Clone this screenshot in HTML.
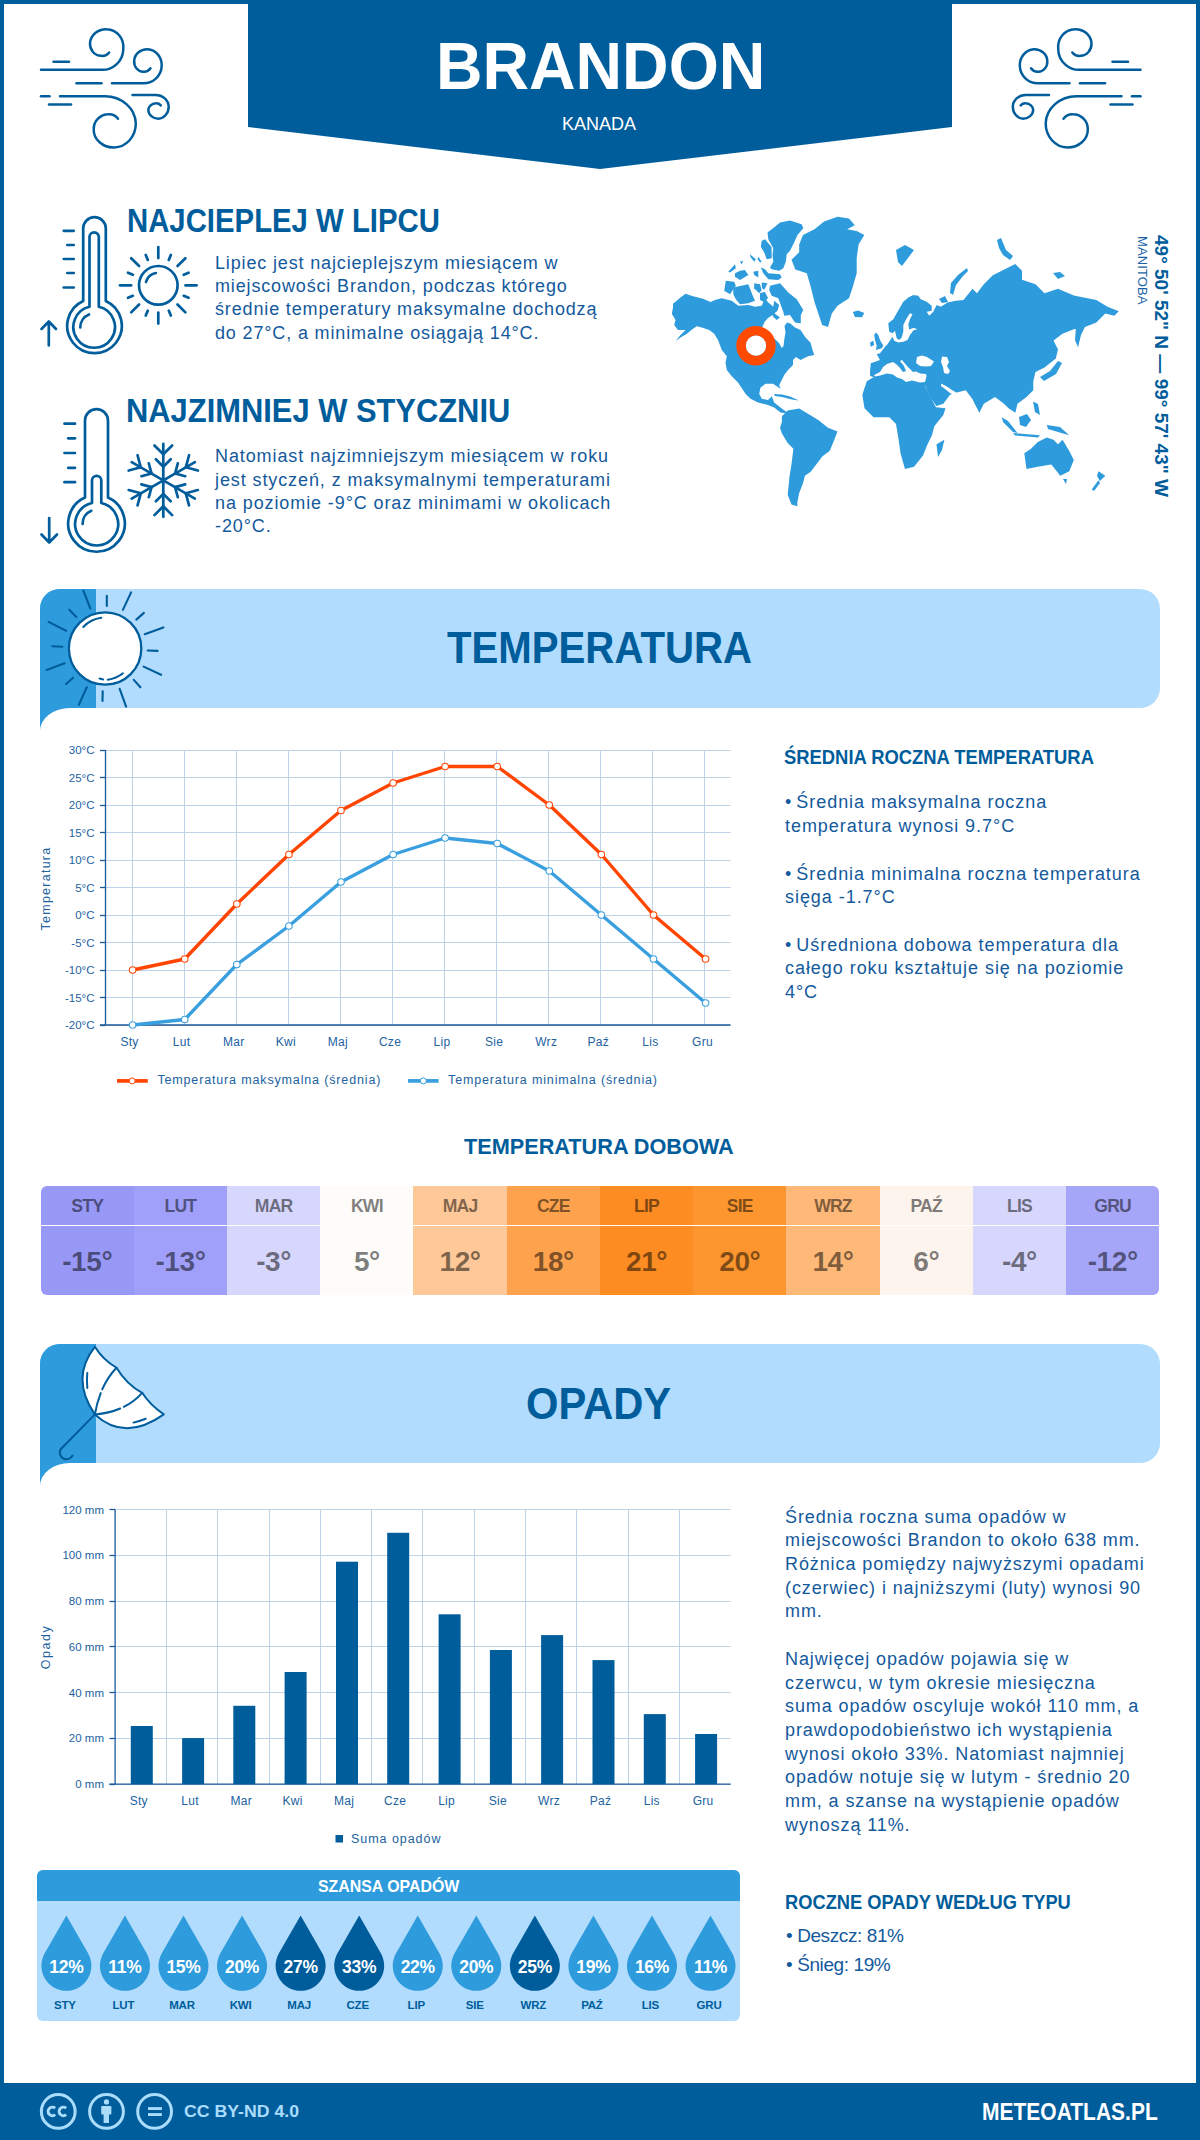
<!DOCTYPE html>
<html lang="pl"><head><meta charset="utf-8"><title>Brandon - klimat</title>
<style>
*{margin:0;padding:0;box-sizing:border-box}
html,body{width:1200px;height:2140px;overflow:hidden;background:#fff}
body{position:relative;font-family:"Liberation Sans",sans-serif;color:#0f5c9e}
.a{position:absolute;white-space:nowrap}
</style></head><body>
<div class="a" style="left:0;top:0;width:1200px;height:2140px;border:4px solid #005d9c"></div>
<svg class="a" style="left:0;top:0" width="1200" height="180" viewBox="0 0 1200 180"><polygon points="248,0 952,0 952,127 600,169 248,127" fill="#005d9c"/></svg>
<div class="a" style="left:435.94px;top:32.62px;font-size:66.8px;line-height:67px;font-weight:700;color:#fff;letter-spacing:0px;transform:scaleX(0.9646);transform-origin:0 0;">BRANDON</div>
<div class="a" style="left:561.55px;top:114.29px;font-size:19px;line-height:20px;font-weight:400;color:#fff;letter-spacing:0px;transform:scaleX(0.9481);transform-origin:0 0;">KANADA</div>
<svg class="a" style="left:0;top:0" width="200" height="160" viewBox="0 0 200 160" fill="none" stroke="#005d9c" stroke-width="2.5" stroke-linecap="round"><path d="M53.5,61.7H69"/>
<path d="M41,69.7H100A21,21 0 0 0 123.3,49.2A17,18 0 0 0 106.7,29.2A16,15 0 0 0 90,43.3A11,12 0 0 0 100.8,55.8A9,9 0 0 0 109.2,52.5"/>
<path d="M76.5,83.3H101.5"/>
<path d="M112,83.3H142.5A18,18 0 0 0 161.7,65.8A15,16 0 0 0 147.5,49.2A13,12 0 0 0 134.2,60.8A9,10 0 0 0 143.3,71.7A8,8 0 0 0 150.5,68.3"/>
<path d="M41,96.2H49.5"/>
<path d="M60,96.2H105A31,28 0 0 1 135.8,123.3A22,24 0 0 1 114.2,147.5A20,18 0 0 1 93.7,129.2A15,15 0 0 1 108.3,114.2A11,11 0 0 1 118,118.7"/>
<path d="M49,104.5H71"/>
<path d="M132.5,95H155A13,12 0 0 1 168.7,106.7A11,12 0 0 1 158.3,118.7A10,9 0 0 1 148.3,110A8,7 0 0 1 155.8,103.3A6,6 0 0 1 160.8,105.3"/></svg>
<svg class="a" style="left:999.5px;top:0" width="200" height="160" viewBox="0 0 200 160" fill="none" stroke="#005d9c" stroke-width="2.5" stroke-linecap="round"><g transform="translate(181.5,0) scale(-1,1)"><path d="M53.5,61.7H69"/>
<path d="M41,69.7H100A21,21 0 0 0 123.3,49.2A17,18 0 0 0 106.7,29.2A16,15 0 0 0 90,43.3A11,12 0 0 0 100.8,55.8A9,9 0 0 0 109.2,52.5"/>
<path d="M76.5,83.3H101.5"/>
<path d="M112,83.3H142.5A18,18 0 0 0 161.7,65.8A15,16 0 0 0 147.5,49.2A13,12 0 0 0 134.2,60.8A9,10 0 0 0 143.3,71.7A8,8 0 0 0 150.5,68.3"/>
<path d="M41,96.2H49.5"/>
<path d="M60,96.2H105A31,28 0 0 1 135.8,123.3A22,24 0 0 1 114.2,147.5A20,18 0 0 1 93.7,129.2A15,15 0 0 1 108.3,114.2A11,11 0 0 1 118,118.7"/>
<path d="M49,104.5H71"/>
<path d="M132.5,95H155A13,12 0 0 1 168.7,106.7A11,12 0 0 1 158.3,118.7A10,9 0 0 1 148.3,110A8,7 0 0 1 155.8,103.3A6,6 0 0 1 160.8,105.3"/></g></svg>
<svg class="a" style="left:0;top:190px" width="220" height="380" viewBox="0 190 220 380" fill="none" stroke="#005d9c" stroke-width="2.7" stroke-linecap="round" stroke-linejoin="round">
<path d="M83.2,301V228.5A11.3,11.3 0 0 1 105.8,228.5V301A27.3,27.3 0 1 1 83.2,301Z"/>
<path d="M89.5,306.7V237A4.65,4.65 0 0 1 98.8,237V306.7A20.8,20.8 0 1 1 89.5,306.7Z"/>
<path d="M80.3,327.5A13.7,13.7 0 0 1 89,314.5"/>
<path d="M63.75,230.8H73.75"/>
<path d="M67.3,245H73.75"/>
<path d="M63.75,259H73.75"/>
<path d="M67.3,273H73.75"/>
<path d="M63.75,287.5H73.75"/>
<path d="M48.8,345.5V321.5M41.5,329L48.8,321.5L56,329"/>
<circle cx="158.3" cy="285.3" r="19.3"/>
<path d="M185.50,285.30L196.60,285.30"/>
<path d="M183.71,295.82L188.60,297.85"/>
<path d="M177.53,304.53L185.38,312.38"/>
<path d="M168.82,310.71L170.85,315.60"/>
<path d="M158.30,312.50L158.30,323.60"/>
<path d="M147.78,310.71L145.75,315.60"/>
<path d="M139.07,304.53L131.22,312.38"/>
<path d="M132.89,295.82L128.00,297.85"/>
<path d="M131.10,285.30L120.00,285.30"/>
<path d="M132.89,274.78L128.00,272.75"/>
<path d="M139.07,266.07L131.22,258.22"/>
<path d="M147.78,259.89L145.75,255.00"/>
<path d="M158.30,258.10L158.30,247.00"/>
<path d="M168.82,259.89L170.85,255.00"/>
<path d="M177.53,266.07L185.38,258.22"/>
<path d="M183.71,274.78L188.60,272.75"/>
<path d="M146,282A12.6,12.6 0 0 1 155.8,273"/>
<path d="M85,497.6V420.7A11.5,11.5 0 0 1 108,420.7V497.6A28.3,28.3 0 1 1 85,497.6Z"/>
<path d="M92,503V480.6A4.65,4.65 0 0 1 101.3,480.6V503A21.5,21.5 0 1 1 92,503Z"/>
<path d="M82.6,524A14,14 0 0 1 91.3,510.8"/>
<path d="M64.5,423.7H75"/>
<path d="M68.2,438.3H75"/>
<path d="M64.5,453H75"/>
<path d="M68.2,467.8H75"/>
<path d="M64.5,482.2H75"/>
<path d="M49.2,518V542.5M41.5,534.5L49.2,542.5L57,534.5"/>
<path d="M163.30,480.30L163.30,443.80"/>
<path d="M163.30,454.30L154.46,445.46"/>
<path d="M163.30,454.30L172.14,445.46"/>
<path d="M163.30,466.70L155.88,459.28"/>
<path d="M163.30,466.70L170.72,459.28"/>
<path d="M163.30,480.30L131.69,462.05"/>
<path d="M140.78,467.30L128.71,470.54"/>
<path d="M140.78,467.30L137.55,455.23"/>
<path d="M151.52,473.50L141.38,476.22"/>
<path d="M151.52,473.50L148.80,463.36"/>
<path d="M163.30,480.30L131.69,498.55"/>
<path d="M140.78,493.30L137.55,505.37"/>
<path d="M140.78,493.30L128.71,490.06"/>
<path d="M151.52,487.10L148.80,497.24"/>
<path d="M151.52,487.10L141.38,484.38"/>
<path d="M163.30,480.30L163.30,516.80"/>
<path d="M163.30,506.30L172.14,515.14"/>
<path d="M163.30,506.30L154.46,515.14"/>
<path d="M163.30,493.90L170.72,501.32"/>
<path d="M163.30,493.90L155.88,501.32"/>
<path d="M163.30,480.30L194.91,498.55"/>
<path d="M185.82,493.30L197.89,490.06"/>
<path d="M185.82,493.30L189.05,505.37"/>
<path d="M175.08,487.10L185.22,484.38"/>
<path d="M175.08,487.10L177.80,497.24"/>
<path d="M163.30,480.30L194.91,462.05"/>
<path d="M185.82,467.30L189.05,455.23"/>
<path d="M185.82,467.30L197.89,470.54"/>
<path d="M175.08,473.50L177.80,463.36"/>
<path d="M175.08,473.50L185.22,476.22"/>
</svg>
<div class="a" style="left:126.52px;top:202.70px;font-size:33px;line-height:36px;font-weight:700;color:#005d9c;letter-spacing:0px;transform:scaleX(0.8888);transform-origin:0 0;">NAJCIEPLEJ W LIPCU</div>
<div class="a" style="left:215.00px;top:251.57px;font-size:18px;line-height:23.33px;font-weight:400;color:#13599c;letter-spacing:0.85px;">Lipiec jest najcieplejszym miesiącem w<br>miejscowości Brandon, podczas którego<br>średnie temperatury maksymalne dochodzą<br>do 27°C, a minimalne osiągają 14°C.</div>
<div class="a" style="left:125.60px;top:392.53px;font-size:32.6px;line-height:36px;font-weight:700;color:#005d9c;letter-spacing:0px;transform:scaleX(0.9478);transform-origin:0 0;">NAJZIMNIEJ W STYCZNIU</div>
<div class="a" style="left:215.00px;top:445.37px;font-size:18px;line-height:23.33px;font-weight:400;color:#13599c;letter-spacing:0.9px;">Natomiast najzimniejszym miesiącem w roku<br>jest styczeń, z maksymalnymi temperaturami<br>na poziomie -9°C oraz minimami w okolicach<br>-20°C.</div>
<div class="a" style="left:784.09px;top:745.05px;font-size:20.3px;line-height:24px;font-weight:700;color:#005d9c;letter-spacing:0px;transform:scaleX(0.9068);transform-origin:0 0;">ŚREDNIA ROCZNA TEMPERATURA</div>
<div class="a" style="left:785.00px;top:791.49px;font-size:18px;line-height:23.7px;font-weight:400;color:#13599c;letter-spacing:0.95px;"><span style="letter-spacing:0">• </span>Średnia maksymalna roczna<br>temperatura wynosi 9.7°C<br><br><span style="letter-spacing:0">• </span>Średnia minimalna roczna temperatura<br>sięga -1.7°C<br><br><span style="letter-spacing:0">• </span>Uśredniona dobowa temperatura dla<br>całego roku kształtuje się na poziomie<br>4°C</div>
<div class="a" style="left:785.00px;top:1505.58px;font-size:18px;line-height:23.7px;font-weight:400;color:#13599c;letter-spacing:0.9px;">Średnia roczna suma opadów w<br>miejscowości Brandon to około 638 mm.<br>Różnica pomiędzy najwyższymi opadami<br>(czerwiec) i najniższymi (luty) wynosi 90<br>mm.<br><br>Najwięcej opadów pojawia się w<br>czerwcu, w tym okresie miesięczna<br>suma opadów oscyluje wokół 110 mm, a<br>prawdopodobieństwo ich wystąpienia<br>wynosi około 33%. Natomiast najmniej<br>opadów notuje się w lutym - średnio 20<br>mm, a szanse na wystąpienie opadów<br>wynoszą 11%.</div>
<div class="a" style="left:785.10px;top:1890.05px;font-size:20.3px;line-height:24px;font-weight:700;color:#005d9c;letter-spacing:0px;transform:scaleX(0.9016);transform-origin:0 0;">ROCZNE OPADY WEDŁUG TYPU</div>
<div class="a" style="left:786.00px;top:1921.09px;font-size:19px;line-height:29.2px;font-weight:400;color:#13599c;letter-spacing:-0.4px;">• Deszcz: 81%<br>• Śnieg: 19%</div>
<svg class="a" style="left:660px;top:205px" width="470" height="310" viewBox="660 205 470 310">
<g fill="#2e9bdc">
<polygon points="673.0,303.8 680.5,297.5 685.5,293.8 693.0,296.2 703.0,298.8 710.5,301.9 715.0,300.0 721.7,298.3 731.7,300.8 738.3,305.8 748.3,305.0 755.0,306.7 761.7,305.8 765.0,298.3 768.3,302.5 773.3,306.7 774.2,300.8 779.2,305.0 777.5,310.8 772.5,315.0 768.0,318.0 764.5,322.0 762.0,328.0 770.0,336.0 776.0,340.0 779.0,343.0 781.8,348.0 783.5,346.0 784.2,340.0 785.5,332.5 784.5,326.0 787.0,322.5 790.0,323.3 795.0,327.5 800.5,330.0 805.5,337.5 810.5,342.5 811.8,347.5 814.2,355.0 808.0,356.2 800.5,360.0 796.0,357.0 793.0,360.0 793.0,365.0 788.0,370.0 784.2,375.0 781.8,380.0 779.2,385.0 780.5,388.8 776.8,386.2 773.0,383.8 765.5,383.8 760.5,387.5 759.2,393.8 761.8,398.8 768.0,400.0 771.8,396.2 774.2,402.5 780.5,407.5 785.5,411.2 789.2,413.8 780.5,412.5 774.2,407.5 768.0,405.0 758.0,402.5 750.5,398.8 745.5,393.8 738.0,382.5 731.8,376.2 726.8,370.0 725.5,362.5 726.8,356.2 721.8,350.0 718.0,340.0 714.2,333.8 709.2,330.0 701.8,327.5 696.8,326.2 693.0,328.8 686.8,333.8 680.5,337.5 675.5,341.2 680.5,335.0 685.5,330.0 678.0,330.0 674.2,325.0 675.5,320.0 671.8,313.8 673.0,307.5"/>
<polygon points="824.1,221.5 837.5,216.7 849.0,218.6 854.8,225.3 847.1,229.2 856.7,231.1 864.3,235.0 858.6,244.5 856.7,258.0 856.7,273.3 852.8,286.7 849.0,298.2 837.5,305.8 831.8,313.5 828.0,327.0 822.2,325.0 818.3,313.5 814.5,302.0 810.7,286.7 806.8,273.3 795.3,269.4 791.5,259.8 799.2,252.2 799.2,244.5 803.0,235.0 814.5,229.2"/>
<polygon points="781.9,416.3 787.7,410.5 799.2,408.6 808.8,414.3 818.3,420.1 828.0,427.8 837.5,431.6 833.7,441.2 829.8,450.8 822.2,456.5 816.4,464.2 810.7,471.8 804.9,475.7 803.0,483.3 799.2,493.0 797.3,502.5 797.3,506.3 791.5,504.4 787.7,494.8 789.6,475.7 791.5,464.2 793.4,448.8 787.7,443.1 781.9,433.5 780.0,427.8 781.9,422.0"/>
<polygon points="870.0,371.7 870.8,363.3 880.0,360.0 876.7,354.2 880.0,353.3 885.0,346.7 887.5,344.2 892.5,336.7 894.2,340.8 898.3,342.5 903.3,341.7 907.5,340.0 910.0,335.0 913.3,330.5 917.5,329.0 913.3,328.0 909.2,329.5 908.3,324.2 910.0,319.2 912.5,314.2 910.0,313.3 906.7,318.3 903.3,325.0 903.3,331.7 901.7,337.5 899.2,340.0 896.7,338.3 895.0,330.8 892.5,333.3 889.2,331.7 888.3,323.3 893.3,319.2 897.5,311.7 903.3,301.7 908.3,297.5 913.3,295.0 918.3,295.8 920.8,299.2 926.7,301.7 931.7,305.8 931.7,310.8 926.7,311.7 929.2,315.8 933.3,311.7 936.7,305.0 940.8,306.7 947.5,302.5 955.8,300.8 963.5,300.0 972.5,288.8 977.0,293.3 983.8,284.3 992.8,275.3 1006.3,268.5 1015.3,264.0 1022.0,270.8 1022.0,279.8 1035.5,284.3 1044.5,293.3 1058.0,288.8 1073.8,295.5 1085.0,297.8 1096.3,300.0 1107.5,306.8 1118.8,311.3 1114.3,315.8 1105.3,313.5 1096.3,322.5 1085.0,327.0 1073.8,329.3 1062.5,333.8 1053.5,340.5 1058.0,349.5 1055.8,358.5 1044.5,367.5 1035.5,372.0 1033.3,381.0 1033.3,390.3 1026.5,397.0 1017.5,403.8 1015.3,412.8 1008.5,408.3 1004.0,403.8 995.0,397.0 983.8,403.8 979.3,412.8 972.5,399.3 965.8,390.3 956.8,392.5 950.0,394.8 943.3,403.8 936.5,406.0 929.8,397.0 925.3,385.8 918.0,381.0 900.0,380.0 880.0,379.0 870.1,376.0"/>
<polygon points="866.8,381.3 878.0,374.5 893.8,374.5 905.0,379.0 918.5,379.0 924.5,384.5 931.0,398.3 936.0,407.3 945.5,408.3 943.3,415.0 934.3,426.3 932.0,435.3 927.5,444.3 923.0,455.5 914.0,466.8 905.0,469.0 900.5,453.3 898.3,437.5 896.0,424.0 889.3,417.3 873.5,417.3 864.5,408.3 862.3,394.8"/>
<polygon points="1024.3,453.3 1026.5,469.0 1037.8,466.8 1051.3,464.5 1060.3,475.8 1069.3,471.3 1073.8,460.0 1069.3,451.0 1062.5,439.8 1058.0,444.3 1053.5,439.8 1046.8,437.5 1037.8,442.0 1031.0,448.8"/>
<polygon points="767.5,232.5 775.0,226.7 780.0,222.5 790.0,220.4 801.7,224.2 803.3,228.3 797.5,235.0 794.2,242.5 790.0,250.8 786.7,254.2 785.8,261.7 783.3,268.3 779.2,270.8 771.7,269.2 770.0,267.5 773.3,261.7 772.5,255.0 773.3,248.3 768.3,239.2"/>
<polygon points="761.7,240.8 765.0,239.2 771.5,247.0 771.7,258.3 766.7,259.2 764.2,252.5 760.8,246.7"/>
<polygon points="760.8,267.5 765.0,269.2 768.3,273.3 780.0,274.2 781.7,277.5 778.3,280.0 768.3,279.2 763.3,273.3"/>
<polygon points="770.0,285.8 780.0,283.3 788.3,292.5 796.7,299.2 803.3,310.0 800.8,315.0 800.8,323.3 795.0,322.5 790.0,315.0 784.2,315.8 783.3,311.7 778.3,298.3 771.7,295.8 769.2,290.0"/>
<polygon points="733.3,287.5 748.3,284.2 752.5,295.0 755.0,300.8 748.3,303.3 740.0,304.2 735.8,299.2 733.3,294.2"/>
<polygon points="725.8,280.8 734.2,281.7 735.8,285.8 730.0,294.2 724.2,290.8"/>
<polygon points="754.2,283.3 760.0,284.2 761.7,290.0 759.2,293.3 754.2,288.3"/>
<polygon points="761.7,282.5 767.5,283.3 764.2,290.0 762.0,288.0"/>
<polygon points="760.0,293.0 765.0,292.0 768.0,298.0 764.0,302.0 760.0,300.0"/>
<polygon points="728.3,271.7 735.0,264.2 735.8,268.3 730.0,272.5"/>
<polygon points="735.0,273.3 740.0,270.8 745.0,270.0 748.3,275.0 740.0,280.0 735.0,276.7"/>
<polygon points="753.3,271.7 758.3,270.8 758.3,277.5 754.2,275.0"/>
<polygon points="750.0,254.2 755.8,259.2 754.2,261.7 750.5,257.0"/>
<polygon points="758.3,256.7 761.7,261.7 760.0,262.5 757.5,259.0"/>
<polygon points="740.0,261.7 743.3,260.8 741.7,264.2"/>
<polygon points="773.3,312.5 780.0,317.5 776.7,320.0 772.5,316.0"/>
<polygon points="774.0,394.0 782.0,394.5 790.0,396.5 799.0,400.6 792.0,399.5 782.0,397.0 775.0,396.0"/>
<polygon points="852.8,312.0 858.0,310.5 864.3,313.0 862.0,317.3 855.0,317.0"/>
<polygon points="896.0,250.0 905.0,245.0 914.0,250.0 908.0,258.0 902.0,266.0 898.0,262.0"/>
<polygon points="967.0,268.0 958.0,275.0 951.0,283.0 950.0,293.0 953.0,295.0 956.0,285.0 963.0,276.0 968.0,271.0"/>
<polygon points="997.0,240.0 1001.0,238.0 1006.0,250.0 1013.0,256.0 1010.0,260.0 1003.0,255.0 999.0,248.0"/>
<polygon points="1053.0,273.0 1060.0,272.0 1065.0,276.0 1058.0,279.0"/>
<polygon points="875.8,332.5 878.3,335.0 880.0,340.0 883.3,345.8 881.7,348.3 875.8,350.0 876.7,345.8 875.0,340.0 874.2,335.0"/>
<polygon points="870.0,342.5 873.3,340.8 874.2,345.0 870.8,346.7"/>
<polygon points="936.5,444.3 944.4,439.8 942.0,450.0 938.0,457.0"/>
<polygon points="1001.8,417.3 1008.0,421.0 1017.5,433.0 1013.0,432.0 1003.0,422.0"/>
<polygon points="1013.0,433.0 1040.0,435.3 1038.0,437.5 1015.0,435.5"/>
<polygon points="1019.0,417.0 1027.0,414.0 1031.0,420.0 1026.0,427.0 1020.0,425.0"/>
<polygon points="1033.0,401.5 1038.0,404.0 1040.0,415.0 1035.0,412.0"/>
<polygon points="1046.8,425.0 1060.0,427.0 1069.3,435.3 1058.0,432.0 1048.0,429.0"/>
<polygon points="1040.0,377.0 1050.0,371.0 1058.0,361.0 1062.0,363.0 1056.0,374.0 1044.0,381.0"/>
<polygon points="1076.0,326.0 1085.0,318.0 1087.3,322.0 1081.0,335.0 1078.0,347.3 1075.0,340.0"/>
<polygon points="1063.0,479.0 1067.0,479.0 1066.0,484.0"/>
<polygon points="1098.5,471.3 1105.3,475.8 1100.0,481.0 1097.0,476.0"/>
<polygon points="1091.8,489.3 1098.5,480.3 1100.0,483.0 1094.0,491.0"/>
<polygon points="939.0,299.0 945.0,296.0 948.0,302.0 942.0,303.0"/>
</g>
<g fill="#fff"><polygon points="874.0,375.0 880.0,372.0 883.0,367.0 887.0,364.0 893.0,362.0 896.0,364.0 900.0,368.0 903.0,372.0 906.0,371.0 904.0,366.0 900.0,361.0 902.0,360.0 907.0,366.0 910.0,369.0 913.0,372.0 916.0,371.5 920.0,373.5 926.0,374.0 926.5,376.0 925.0,382.0 920.0,382.5 912.0,380.5 906.0,382.0 902.0,379.0 897.0,377.5 893.0,374.5 887.0,373.5 880.0,375.5 875.0,376.5"/><polygon points="917.0,357.0 922.0,355.5 927.0,357.0 930.0,359.0 934.0,361.5 931.0,366.0 926.0,366.5 920.0,366.0 916.0,363.0"/><polygon points="942.0,356.5 947.0,357.0 949.0,362.0 947.0,366.0 950.0,371.0 948.0,374.0 944.0,373.0 943.0,367.0 941.0,362.0"/><polygon points="941.0,383.5 946.0,386.0 952.0,390.0 957.0,393.0 955.0,395.5 950.0,393.0 945.0,389.0 941.0,386.0"/></g>
<circle cx="756" cy="345.7" r="14.9" fill="none" stroke="#ff4a00" stroke-width="9.6"/><circle cx="756" cy="345.7" r="10.1" fill="#fff"/>
</svg>
<div class="a" style="left:1138.5px;top:236px;width:20px;height:80px"><div style="position:absolute;left:0;top:0;transform-origin:0 0;transform:translate(10px,0) rotate(90deg);font-size:13px;line-height:13px;color:#1a62a5;letter-spacing:0.1px">MANITOBA</div></div>
<div class="a" style="left:1152px;top:235px;width:20px;height:270px"><div style="position:absolute;left:0;top:0;transform-origin:0 0;transform:translate(19px,0) rotate(90deg);font-size:19px;line-height:19px;font-weight:700;color:#005d9c;white-space:nowrap">49° 50' 52" N — 99° 57' 43" W</div></div>
<div class="a" style="left:40px;top:589px;width:56px;height:141px;background:#2e9bdc;border-radius:20px 0 0 0"></div>
<div class="a" style="left:40px;top:589px;width:1120px;height:118.5px;background:#b1dcfd;border-radius:20px 20px 20px 0"></div>
<div class="a" style="left:40px;top:589px;width:56px;height:118.5px;background:#2e9bdc;border-radius:20px 0 0 0"></div>
<div class="a" style="left:40px;top:707.5px;width:120px;height:40px;background:#fff;border-radius:30px 0 0 0/23px 0 0 0"></div>
<div class="a" style="left:446.80px;top:623.10px;font-size:43.5px;line-height:50px;font-weight:700;color:#005d9c;letter-spacing:0px;transform:scaleX(0.9234);transform-origin:0 0;">TEMPERATURA</div>
<div class="a" style="left:40px;top:1344px;width:56px;height:141px;background:#2e9bdc;border-radius:20px 0 0 0"></div>
<div class="a" style="left:40px;top:1344px;width:1120px;height:118.5px;background:#b1dcfd;border-radius:20px 20px 20px 0"></div>
<div class="a" style="left:40px;top:1344px;width:56px;height:118.5px;background:#2e9bdc;border-radius:20px 0 0 0"></div>
<div class="a" style="left:40px;top:1462.5px;width:120px;height:40px;background:#fff;border-radius:30px 0 0 0/23px 0 0 0"></div>
<div class="a" style="left:526.08px;top:1378.60px;font-size:43.5px;line-height:50px;font-weight:700;color:#005d9c;letter-spacing:0px;transform:scaleX(0.9584);transform-origin:0 0;">OPADY</div>
<svg class="a" style="left:36px;top:584px" width="140" height="150" viewBox="36 584 140 150" fill="none" stroke="#005d9c" stroke-width="2.1" stroke-linecap="round">
<path d="M83.3,590.4L90.3,608.5"/>
<path d="M106.8,595.7L106.8,606"/>
<path d="M131.1,592.4L122.9,609.9"/>
<path d="M69.3,609.7L76.3,617"/>
<path d="M143.9,612.9L136.3,619.6"/>
<path d="M48.6,621.9L66.1,630.7"/>
<path d="M163.4,627.4L144.7,634.2"/>
<path d="M52.3,646.2L62.3,646.8"/>
<path d="M147.7,650.5L157.6,650.9"/>
<path d="M46.5,670L64.6,663.3"/>
<path d="M143.6,666.6L161.1,674.8"/>
<path d="M66.1,684.1L73.1,677.7"/>
<path d="M133.8,679.9L140.4,687.3"/>
<path d="M78.9,704.8L86.8,687.3"/>
<path d="M102.7,691.3L102.5,701"/>
<path d="M119.7,688.8L126.1,706.7"/>
<circle cx="105.1" cy="648.5" r="36.2" fill="#fff" stroke-width="2.3"/>
<path d="M83.3,627A30,30 0 0 1 101.3,617.8"/><path d="M99.6,678.5L103.1,679.4M107.8,679.7A30,30 0 0 0 122.9,673.3"/>
</svg>
<svg class="a" style="left:0;top:730px" width="780" height="380" viewBox="0 730 780 380" font-family="Liberation Sans, sans-serif">
<g stroke="#bcd3e8" stroke-width="1">
<path d="M100,750.5H730.5"/>
<path d="M100,777.5H730.5"/>
<path d="M100,805.5H730.5"/>
<path d="M100,832.5H730.5"/>
<path d="M100,860.5H730.5"/>
<path d="M100,887.5H730.5"/>
<path d="M100,915.5H730.5"/>
<path d="M100,942.5H730.5"/>
<path d="M100,970.5H730.5"/>
<path d="M100,997.5H730.5"/>
<path d="M100,1025.5H730.5"/>
<path d="M132.5,750V1025"/>
<path d="M184.5,750V1025"/>
<path d="M236.5,750V1025"/>
<path d="M288.5,750V1025"/>
<path d="M340.5,750V1025"/>
<path d="M392.5,750V1025"/>
<path d="M444.5,750V1025"/>
<path d="M496.5,750V1025"/>
<path d="M548.5,750V1025"/>
<path d="M600.5,750V1025"/>
<path d="M652.5,750V1025"/>
<path d="M704.5,750V1025"/>
</g>
<g stroke="#1d5a98" stroke-width="1.3">
<path d="M100,750.5H105.5"/>
<path d="M100,777.5H105.5"/>
<path d="M100,805.5H105.5"/>
<path d="M100,832.5H105.5"/>
<path d="M100,860.5H105.5"/>
<path d="M100,887.5H105.5"/>
<path d="M100,915.5H105.5"/>
<path d="M100,942.5H105.5"/>
<path d="M100,970.5H105.5"/>
<path d="M100,997.5H105.5"/>
<path d="M100,1025.5H105.5"/>
<path d="M105.5,750V1025"/><path d="M100,1025H730.5"/></g>
<g fill="#22629f" font-size="11.5" text-anchor="end">
<text x="94.5" y="754.0">30°C</text>
<text x="94.5" y="781.5">25°C</text>
<text x="94.5" y="809.0">20°C</text>
<text x="94.5" y="836.5">15°C</text>
<text x="94.5" y="864.0">10°C</text>
<text x="94.5" y="891.5">5°C</text>
<text x="94.5" y="919.0">0°C</text>
<text x="94.5" y="946.5">-5°C</text>
<text x="94.5" y="974.0">-10°C</text>
<text x="94.5" y="1001.5">-15°C</text>
<text x="94.5" y="1029.0">-20°C</text>
</g>
<g fill="#22629f" font-size="12" text-anchor="middle" letter-spacing="0.3">
<text x="129.5" y="1045.5">Sty</text>
<text x="181.6" y="1045.5">Lut</text>
<text x="233.7" y="1045.5">Mar</text>
<text x="285.8" y="1045.5">Kwi</text>
<text x="337.9" y="1045.5">Maj</text>
<text x="390.0" y="1045.5">Cze</text>
<text x="442.0" y="1045.5">Lip</text>
<text x="494.1" y="1045.5">Sie</text>
<text x="546.2" y="1045.5">Wrz</text>
<text x="598.3" y="1045.5">Paź</text>
<text x="650.4" y="1045.5">Lis</text>
<text x="702.5" y="1045.5">Gru</text>
</g>
<text transform="translate(50,888.5) rotate(-90)" text-anchor="middle" fill="#22629f" font-size="12.5" letter-spacing="1.25">Temperatura</text>
<polyline points="132.6,1025.0 184.7,1019.5 236.8,964.5 288.9,926.0 341.0,882.0 393.1,854.5 445.1,838.0 497.2,843.5 549.3,871.0 601.4,915.0 653.5,959.0 705.6,1003.0" fill="none" stroke="#3a9fdf" stroke-width="3.4" stroke-linejoin="round"/><circle cx="132.6" cy="1025.0" r="3.3" fill="#fff" stroke="#3a9fdf" stroke-width="1.05"/><circle cx="184.7" cy="1019.5" r="3.3" fill="#fff" stroke="#3a9fdf" stroke-width="1.05"/><circle cx="236.8" cy="964.5" r="3.3" fill="#fff" stroke="#3a9fdf" stroke-width="1.05"/><circle cx="288.9" cy="926.0" r="3.3" fill="#fff" stroke="#3a9fdf" stroke-width="1.05"/><circle cx="341.0" cy="882.0" r="3.3" fill="#fff" stroke="#3a9fdf" stroke-width="1.05"/><circle cx="393.1" cy="854.5" r="3.3" fill="#fff" stroke="#3a9fdf" stroke-width="1.05"/><circle cx="445.1" cy="838.0" r="3.3" fill="#fff" stroke="#3a9fdf" stroke-width="1.05"/><circle cx="497.2" cy="843.5" r="3.3" fill="#fff" stroke="#3a9fdf" stroke-width="1.05"/><circle cx="549.3" cy="871.0" r="3.3" fill="#fff" stroke="#3a9fdf" stroke-width="1.05"/><circle cx="601.4" cy="915.0" r="3.3" fill="#fff" stroke="#3a9fdf" stroke-width="1.05"/><circle cx="653.5" cy="959.0" r="3.3" fill="#fff" stroke="#3a9fdf" stroke-width="1.05"/><circle cx="705.6" cy="1003.0" r="3.3" fill="#fff" stroke="#3a9fdf" stroke-width="1.05"/>
<polyline points="132.6,970.0 184.7,959.0 236.8,904.0 288.9,854.5 341.0,810.5 393.1,783.0 445.1,766.5 497.2,766.5 549.3,805.0 601.4,854.5 653.5,915.0 705.6,959.0" fill="none" stroke="#ff4500" stroke-width="3.4" stroke-linejoin="round"/><circle cx="132.6" cy="970.0" r="3.3" fill="#fff" stroke="#ff4500" stroke-width="1.05"/><circle cx="184.7" cy="959.0" r="3.3" fill="#fff" stroke="#ff4500" stroke-width="1.05"/><circle cx="236.8" cy="904.0" r="3.3" fill="#fff" stroke="#ff4500" stroke-width="1.05"/><circle cx="288.9" cy="854.5" r="3.3" fill="#fff" stroke="#ff4500" stroke-width="1.05"/><circle cx="341.0" cy="810.5" r="3.3" fill="#fff" stroke="#ff4500" stroke-width="1.05"/><circle cx="393.1" cy="783.0" r="3.3" fill="#fff" stroke="#ff4500" stroke-width="1.05"/><circle cx="445.1" cy="766.5" r="3.3" fill="#fff" stroke="#ff4500" stroke-width="1.05"/><circle cx="497.2" cy="766.5" r="3.3" fill="#fff" stroke="#ff4500" stroke-width="1.05"/><circle cx="549.3" cy="805.0" r="3.3" fill="#fff" stroke="#ff4500" stroke-width="1.05"/><circle cx="601.4" cy="854.5" r="3.3" fill="#fff" stroke="#ff4500" stroke-width="1.05"/><circle cx="653.5" cy="915.0" r="3.3" fill="#fff" stroke="#ff4500" stroke-width="1.05"/><circle cx="705.6" cy="959.0" r="3.3" fill="#fff" stroke="#ff4500" stroke-width="1.05"/>
<path d="M117,1080.9H147.8" stroke="#ff4500" stroke-width="3.7"/><circle cx="132.2" cy="1080.9" r="3" fill="#fff" stroke="#ff4500" stroke-width="1"/>
<text x="157.4" y="1083.8" fill="#22629f" font-size="12.5" letter-spacing="0.85">Temperatura maksymalna (średnia)</text>
<path d="M408,1080.9H438.6" stroke="#3a9fdf" stroke-width="3.7"/><circle cx="423.3" cy="1080.9" r="3" fill="#fff" stroke="#3a9fdf" stroke-width="1"/>
<text x="448.1" y="1083.8" fill="#22629f" font-size="12.5" letter-spacing="0.85">Temperatura minimalna (średnia)</text>
</svg>
<div class="a" style="left:463.50px;top:1133.66px;font-size:22.3px;line-height:26px;font-weight:700;color:#005d9c;letter-spacing:0px;transform:scaleX(0.9722);transform-origin:0 0;">TEMPERATURA DOBOWA</div>
<div class="a" style="left:40.6px;top:1186.3px;width:1118.7px;height:109.2px;border-radius:6px;overflow:hidden">
<div class="a" style="left:0.00px;top:0;width:93.73px;height:109.2px;background:#9898f7"></div>
<div class="a" style="left:0.00px;top:0;width:93.23px;text-align:center;font-weight:700;font-size:17.6px;line-height:20px;padding-top:9.3px;letter-spacing:-0.8px;color:rgba(0,0,0,0.5)">STY</div>
<div class="a" style="left:0.00px;top:0;width:93.23px;text-align:center;font-weight:700;font-size:28px;line-height:30px;padding-top:61.2px;letter-spacing:-0.4px;color:rgba(0,0,0,0.5)">-15°</div>
<div class="a" style="left:93.23px;top:0;width:93.73px;height:109.2px;background:#a0a0fa"></div>
<div class="a" style="left:93.23px;top:0;width:93.23px;text-align:center;font-weight:700;font-size:17.6px;line-height:20px;padding-top:9.3px;letter-spacing:-0.8px;color:rgba(0,0,0,0.5)">LUT</div>
<div class="a" style="left:93.23px;top:0;width:93.23px;text-align:center;font-weight:700;font-size:28px;line-height:30px;padding-top:61.2px;letter-spacing:-0.4px;color:rgba(0,0,0,0.5)">-13°</div>
<div class="a" style="left:186.45px;top:0;width:93.73px;height:109.2px;background:#d7d7fd"></div>
<div class="a" style="left:186.45px;top:0;width:93.23px;text-align:center;font-weight:700;font-size:17.6px;line-height:20px;padding-top:9.3px;letter-spacing:-0.8px;color:rgba(0,0,0,0.5)">MAR</div>
<div class="a" style="left:186.45px;top:0;width:93.23px;text-align:center;font-weight:700;font-size:28px;line-height:30px;padding-top:61.2px;letter-spacing:-0.4px;color:rgba(0,0,0,0.5)">-3°</div>
<div class="a" style="left:279.68px;top:0;width:93.73px;height:109.2px;background:#fdfcfa"></div>
<div class="a" style="left:279.68px;top:0;width:93.23px;text-align:center;font-weight:700;font-size:17.6px;line-height:20px;padding-top:9.3px;letter-spacing:-0.8px;color:rgba(0,0,0,0.5)">KWI</div>
<div class="a" style="left:279.68px;top:0;width:93.23px;text-align:center;font-weight:700;font-size:28px;line-height:30px;padding-top:61.2px;letter-spacing:-0.4px;color:rgba(0,0,0,0.5)">5°</div>
<div class="a" style="left:372.90px;top:0;width:93.73px;height:109.2px;background:#fec898"></div>
<div class="a" style="left:372.90px;top:0;width:93.23px;text-align:center;font-weight:700;font-size:17.6px;line-height:20px;padding-top:9.3px;letter-spacing:-0.8px;color:rgba(0,0,0,0.5)">MAJ</div>
<div class="a" style="left:372.90px;top:0;width:93.23px;text-align:center;font-weight:700;font-size:28px;line-height:30px;padding-top:61.2px;letter-spacing:-0.4px;color:rgba(0,0,0,0.5)">12°</div>
<div class="a" style="left:466.13px;top:0;width:93.73px;height:109.2px;background:#fea24e"></div>
<div class="a" style="left:466.13px;top:0;width:93.23px;text-align:center;font-weight:700;font-size:17.6px;line-height:20px;padding-top:9.3px;letter-spacing:-0.8px;color:rgba(0,0,0,0.5)">CZE</div>
<div class="a" style="left:466.13px;top:0;width:93.23px;text-align:center;font-weight:700;font-size:28px;line-height:30px;padding-top:61.2px;letter-spacing:-0.4px;color:rgba(0,0,0,0.5)">18°</div>
<div class="a" style="left:559.35px;top:0;width:93.73px;height:109.2px;background:#fd8c22"></div>
<div class="a" style="left:559.35px;top:0;width:93.23px;text-align:center;font-weight:700;font-size:17.6px;line-height:20px;padding-top:9.3px;letter-spacing:-0.8px;color:rgba(0,0,0,0.5)">LIP</div>
<div class="a" style="left:559.35px;top:0;width:93.23px;text-align:center;font-weight:700;font-size:28px;line-height:30px;padding-top:61.2px;letter-spacing:-0.4px;color:rgba(0,0,0,0.5)">21°</div>
<div class="a" style="left:652.58px;top:0;width:93.73px;height:109.2px;background:#fe962f"></div>
<div class="a" style="left:652.58px;top:0;width:93.23px;text-align:center;font-weight:700;font-size:17.6px;line-height:20px;padding-top:9.3px;letter-spacing:-0.8px;color:rgba(0,0,0,0.5)">SIE</div>
<div class="a" style="left:652.58px;top:0;width:93.23px;text-align:center;font-weight:700;font-size:28px;line-height:30px;padding-top:61.2px;letter-spacing:-0.4px;color:rgba(0,0,0,0.5)">20°</div>
<div class="a" style="left:745.80px;top:0;width:93.73px;height:109.2px;background:#feb979"></div>
<div class="a" style="left:745.80px;top:0;width:93.23px;text-align:center;font-weight:700;font-size:17.6px;line-height:20px;padding-top:9.3px;letter-spacing:-0.8px;color:rgba(0,0,0,0.5)">WRZ</div>
<div class="a" style="left:745.80px;top:0;width:93.23px;text-align:center;font-weight:700;font-size:28px;line-height:30px;padding-top:61.2px;letter-spacing:-0.4px;color:rgba(0,0,0,0.5)">14°</div>
<div class="a" style="left:839.03px;top:0;width:93.73px;height:109.2px;background:#fef4ee"></div>
<div class="a" style="left:839.03px;top:0;width:93.23px;text-align:center;font-weight:700;font-size:17.6px;line-height:20px;padding-top:9.3px;letter-spacing:-0.8px;color:rgba(0,0,0,0.5)">PAŹ</div>
<div class="a" style="left:839.03px;top:0;width:93.23px;text-align:center;font-weight:700;font-size:28px;line-height:30px;padding-top:61.2px;letter-spacing:-0.4px;color:rgba(0,0,0,0.5)">6°</div>
<div class="a" style="left:932.25px;top:0;width:93.73px;height:109.2px;background:#d7d7fd"></div>
<div class="a" style="left:932.25px;top:0;width:93.23px;text-align:center;font-weight:700;font-size:17.6px;line-height:20px;padding-top:9.3px;letter-spacing:-0.8px;color:rgba(0,0,0,0.5)">LIS</div>
<div class="a" style="left:932.25px;top:0;width:93.23px;text-align:center;font-weight:700;font-size:28px;line-height:30px;padding-top:61.2px;letter-spacing:-0.4px;color:rgba(0,0,0,0.5)">-4°</div>
<div class="a" style="left:1025.48px;top:0;width:93.73px;height:109.2px;background:#a6a6f9"></div>
<div class="a" style="left:1025.48px;top:0;width:93.23px;text-align:center;font-weight:700;font-size:17.6px;line-height:20px;padding-top:9.3px;letter-spacing:-0.8px;color:rgba(0,0,0,0.5)">GRU</div>
<div class="a" style="left:1025.48px;top:0;width:93.23px;text-align:center;font-weight:700;font-size:28px;line-height:30px;padding-top:61.2px;letter-spacing:-0.4px;color:rgba(0,0,0,0.5)">-12°</div>
<div class="a" style="left:0;top:38.6px;width:100%;height:1.4px;background:#fff"></div>
</div>
<svg class="a" style="left:36px;top:1338px" width="140" height="150" viewBox="36 1338 140 150" fill="none" stroke="#005d9c" stroke-width="2" stroke-linecap="round" stroke-linejoin="round">
<path d="M94.9,1414.4L60.5,1449.5A5.5,5.5 0 0 0 72.5,1455.5"/>
<path d="M94.9,1346.8Q70,1378 94.9,1414.4Q125,1442 163.8,1414.4Q150,1405 142.2,1392.8Q127,1385 116.5,1367.75Q103,1360 94.9,1346.8Z" fill="#fff"/>
<path d="M94.9,1414.4Q100,1385 116.5,1367.75" stroke-dasharray="22 4 30"/><path d="M94.9,1414.4Q125,1412 142.2,1392.8" stroke-dasharray="26 4 30"/>
<path d="M87.3,1373Q86.5,1380 87.3,1388"/><path d="M133.4,1422.6Q140,1421 145.7,1418.7"/>
</svg>
<svg class="a" style="left:0;top:1490px" width="780" height="370" viewBox="0 1490 780 370" font-family="Liberation Sans, sans-serif">
<g stroke="#bcd3e8" stroke-width="1">
<path d="M110,1509.5H730.7"/>
<path d="M110,1555.5H730.7"/>
<path d="M110,1601.5H730.7"/>
<path d="M110,1646.5H730.7"/>
<path d="M110,1692.5H730.7"/>
<path d="M110,1738.5H730.7"/>
<path d="M110,1784.5H730.7"/>
<path d="M166.5,1509.5V1784.1"/>
<path d="M217.5,1509.5V1784.1"/>
<path d="M269.5,1509.5V1784.1"/>
<path d="M320.5,1509.5V1784.1"/>
<path d="M371.5,1509.5V1784.1"/>
<path d="M422.5,1509.5V1784.1"/>
<path d="M474.5,1509.5V1784.1"/>
<path d="M525.5,1509.5V1784.1"/>
<path d="M576.5,1509.5V1784.1"/>
<path d="M628.5,1509.5V1784.1"/>
<path d="M679.5,1509.5V1784.1"/>
</g>
<g stroke="#1d5a98" stroke-width="1.3">
<path d="M109.5,1509.5H115.1"/>
<path d="M109.5,1555.5H115.1"/>
<path d="M109.5,1601.5H115.1"/>
<path d="M109.5,1646.5H115.1"/>
<path d="M109.5,1692.5H115.1"/>
<path d="M109.5,1738.5H115.1"/>
<path d="M109.5,1784.5H115.1"/>
<path d="M115.1,1509.5V1784.1"/><path d="M109.5,1784.1H730.7"/></g>
<g fill="#005d9c">
<rect x="130.8" y="1726.0" width="22" height="58.1"/>
<rect x="182.1" y="1738.1" width="22" height="46.0"/>
<rect x="233.3" y="1705.8" width="22" height="78.3"/>
<rect x="284.6" y="1672.0" width="22" height="112.1"/>
<rect x="336.0" y="1561.7" width="22" height="222.4"/>
<rect x="387.2" y="1532.8" width="22" height="251.3"/>
<rect x="438.6" y="1614.3" width="22" height="169.8"/>
<rect x="489.9" y="1650.0" width="22" height="134.1"/>
<rect x="541.1" y="1635.1" width="22" height="149.0"/>
<rect x="592.5" y="1660.1" width="22" height="124.0"/>
<rect x="643.8" y="1714.1" width="22" height="70.0"/>
<rect x="695.1" y="1734.0" width="22" height="50.1"/>
</g>
<g fill="#22629f" font-size="11.5" text-anchor="end">
<text x="104" y="1513.5">120 mm</text>
<text x="104" y="1559.3">100 mm</text>
<text x="104" y="1605.0">80 mm</text>
<text x="104" y="1650.8">60 mm</text>
<text x="104" y="1696.6">40 mm</text>
<text x="104" y="1742.3">20 mm</text>
<text x="104" y="1788.1">0 mm</text>
</g>
<g fill="#22629f" font-size="12" text-anchor="middle" letter-spacing="0.3">
<text x="138.8" y="1804.5">Sty</text>
<text x="190.1" y="1804.5">Lut</text>
<text x="241.3" y="1804.5">Mar</text>
<text x="292.6" y="1804.5">Kwi</text>
<text x="344.0" y="1804.5">Maj</text>
<text x="395.2" y="1804.5">Cze</text>
<text x="446.6" y="1804.5">Lip</text>
<text x="497.9" y="1804.5">Sie</text>
<text x="549.1" y="1804.5">Wrz</text>
<text x="600.5" y="1804.5">Paź</text>
<text x="651.8" y="1804.5">Lis</text>
<text x="703.1" y="1804.5">Gru</text>
</g>
<text transform="translate(50,1647) rotate(-90)" text-anchor="middle" fill="#22629f" font-size="12.5" letter-spacing="1.5">Opady</text>
<rect x="335.5" y="1835" width="7.5" height="7.5" fill="#005d9c"/><text x="351" y="1842.5" fill="#22629f" font-size="12.5" letter-spacing="0.95">Suma opadów</text>
</svg>
<div class="a" style="left:37.1px;top:1869.7px;width:702.7px;height:151.3px;border-radius:6px;background:#b1dcfd;overflow:hidden"><div style="height:30.9px;background:#2e9bdc"></div></div>
<div class="a" style="left:318.25px;top:1876.78px;font-size:16.7px;line-height:20px;font-weight:700;color:#fff;letter-spacing:0px;transform:scaleX(0.9524);transform-origin:0 0;">SZANSA OPADÓW</div>
<svg class="a" style="left:0;top:1900px" width="760" height="120" viewBox="0 1900 760 120" font-family="Liberation Sans, sans-serif">
<path d="M66.38,1915.50L44.69,1953.37A25,25 0 1 0 88.07,1953.37Z" fill="#2e9bdc"/>
<text x="66.38" y="1972.8" text-anchor="middle" fill="#fff" font-weight="700" font-size="17.5" letter-spacing="-0.3">12%</text>
<text x="64.88" y="2008.5" text-anchor="middle" fill="#005d9c" font-weight="700" font-size="11.5" letter-spacing="-0.2">STY</text>
<path d="M124.94,1915.50L103.24,1953.37A25,25 0 1 0 146.63,1953.37Z" fill="#2e9bdc"/>
<text x="124.94" y="1972.8" text-anchor="middle" fill="#fff" font-weight="700" font-size="17.5" letter-spacing="-0.3">11%</text>
<text x="123.44" y="2008.5" text-anchor="middle" fill="#005d9c" font-weight="700" font-size="11.5" letter-spacing="-0.2">LUT</text>
<path d="M183.50,1915.50L161.80,1953.37A25,25 0 1 0 205.19,1953.37Z" fill="#2e9bdc"/>
<text x="183.50" y="1972.8" text-anchor="middle" fill="#fff" font-weight="700" font-size="17.5" letter-spacing="-0.3">15%</text>
<text x="182.00" y="2008.5" text-anchor="middle" fill="#005d9c" font-weight="700" font-size="11.5" letter-spacing="-0.2">MAR</text>
<path d="M242.05,1915.50L220.36,1953.37A25,25 0 1 0 263.75,1953.37Z" fill="#2e9bdc"/>
<text x="242.05" y="1972.8" text-anchor="middle" fill="#fff" font-weight="700" font-size="17.5" letter-spacing="-0.3">20%</text>
<text x="240.55" y="2008.5" text-anchor="middle" fill="#005d9c" font-weight="700" font-size="11.5" letter-spacing="-0.2">KWI</text>
<path d="M300.61,1915.50L278.92,1953.37A25,25 0 1 0 322.31,1953.37Z" fill="#005d9c"/>
<text x="300.61" y="1972.8" text-anchor="middle" fill="#fff" font-weight="700" font-size="17.5" letter-spacing="-0.3">27%</text>
<text x="299.11" y="2008.5" text-anchor="middle" fill="#005d9c" font-weight="700" font-size="11.5" letter-spacing="-0.2">MAJ</text>
<path d="M359.17,1915.50L337.48,1953.37A25,25 0 1 0 380.86,1953.37Z" fill="#005d9c"/>
<text x="359.17" y="1972.8" text-anchor="middle" fill="#fff" font-weight="700" font-size="17.5" letter-spacing="-0.3">33%</text>
<text x="357.67" y="2008.5" text-anchor="middle" fill="#005d9c" font-weight="700" font-size="11.5" letter-spacing="-0.2">CZE</text>
<path d="M417.73,1915.50L396.04,1953.37A25,25 0 1 0 439.42,1953.37Z" fill="#2e9bdc"/>
<text x="417.73" y="1972.8" text-anchor="middle" fill="#fff" font-weight="700" font-size="17.5" letter-spacing="-0.3">22%</text>
<text x="416.23" y="2008.5" text-anchor="middle" fill="#005d9c" font-weight="700" font-size="11.5" letter-spacing="-0.2">LIP</text>
<path d="M476.29,1915.50L454.59,1953.37A25,25 0 1 0 497.98,1953.37Z" fill="#2e9bdc"/>
<text x="476.29" y="1972.8" text-anchor="middle" fill="#fff" font-weight="700" font-size="17.5" letter-spacing="-0.3">20%</text>
<text x="474.79" y="2008.5" text-anchor="middle" fill="#005d9c" font-weight="700" font-size="11.5" letter-spacing="-0.2">SIE</text>
<path d="M534.85,1915.50L513.15,1953.37A25,25 0 1 0 556.54,1953.37Z" fill="#005d9c"/>
<text x="534.85" y="1972.8" text-anchor="middle" fill="#fff" font-weight="700" font-size="17.5" letter-spacing="-0.3">25%</text>
<text x="533.35" y="2008.5" text-anchor="middle" fill="#005d9c" font-weight="700" font-size="11.5" letter-spacing="-0.2">WRZ</text>
<path d="M593.40,1915.50L571.71,1953.37A25,25 0 1 0 615.10,1953.37Z" fill="#2e9bdc"/>
<text x="593.40" y="1972.8" text-anchor="middle" fill="#fff" font-weight="700" font-size="17.5" letter-spacing="-0.3">19%</text>
<text x="591.90" y="2008.5" text-anchor="middle" fill="#005d9c" font-weight="700" font-size="11.5" letter-spacing="-0.2">PAŹ</text>
<path d="M651.96,1915.50L630.27,1953.37A25,25 0 1 0 673.66,1953.37Z" fill="#2e9bdc"/>
<text x="651.96" y="1972.8" text-anchor="middle" fill="#fff" font-weight="700" font-size="17.5" letter-spacing="-0.3">16%</text>
<text x="650.46" y="2008.5" text-anchor="middle" fill="#005d9c" font-weight="700" font-size="11.5" letter-spacing="-0.2">LIS</text>
<path d="M710.52,1915.50L688.83,1953.37A25,25 0 1 0 732.21,1953.37Z" fill="#2e9bdc"/>
<text x="710.52" y="1972.8" text-anchor="middle" fill="#fff" font-weight="700" font-size="17.5" letter-spacing="-0.3">11%</text>
<text x="709.02" y="2008.5" text-anchor="middle" fill="#005d9c" font-weight="700" font-size="11.5" letter-spacing="-0.2">GRU</text>
</svg>
<div class="a" style="left:0;top:2083px;width:1200px;height:57px;background:#005d9c"></div>
<svg class="a" style="left:0;top:2083px" width="320" height="57" viewBox="0 2083 320 57" font-family="Liberation Sans, sans-serif">
<g fill="none" stroke="#aadcfb" stroke-width="3"><circle cx="58.25" cy="2111.4" r="16.9"/><circle cx="106.5" cy="2111.4" r="16.9"/><circle cx="154.6" cy="2111.4" r="16.9"/></g>
<path d="M55.16,2108.11A4.3,4.3 0 1 0 55.16,2114.69" fill="none" stroke="#aadcfb" stroke-width="2.9"/>
<path d="M66.16,2108.11A4.3,4.3 0 1 0 66.16,2114.69" fill="none" stroke="#aadcfb" stroke-width="2.9"/>
<g fill="#aadcfb"><circle cx="106.5" cy="2101.9" r="2.6"/><rect x="101.2" y="2106.1" width="10.2" height="8.5" rx="1"/><rect x="103.6" y="2110" width="5.4" height="13"/>
<rect x="148" y="2107.1" width="13.9" height="2.9"/><rect x="148" y="2113.1" width="13.9" height="2.9"/></g>
</svg>
<div class="a" style="left:184.24px;top:2101.78px;font-size:16.7px;line-height:20px;font-weight:700;color:#aadcfb;letter-spacing:0px;transform:scaleX(1.0598);transform-origin:0 0;">CC BY-ND 4.0</div>
<div class="a" style="left:982.40px;top:2098.95px;font-size:23.5px;line-height:26px;font-weight:700;color:#fff;letter-spacing:0px;transform:scaleX(0.8933);transform-origin:0 0;">METEOATLAS.PL</div>
</body></html>
